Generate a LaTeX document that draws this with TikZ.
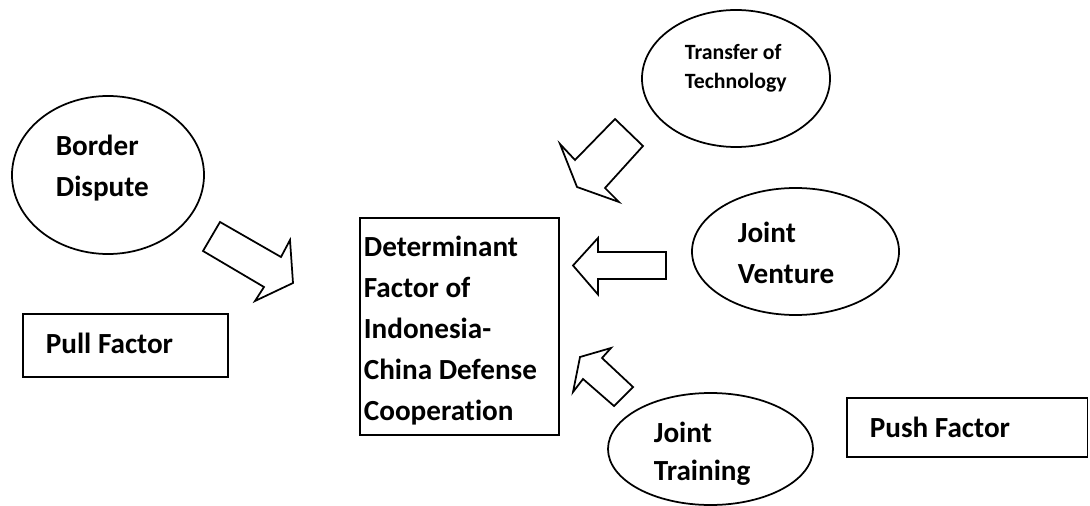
\documentclass[tikz,border=0pt]{standalone}
\usepackage{fontspec}
\setmainfont{Carlito}[Ligatures=NoCommon]
\usetikzlibrary{shapes.geometric}

\begin{document}
\begin{tikzpicture}[x=0.2mm, y=-0.2mm, line width=0.35mm,
			oval/.style={draw, ellipse, inner sep=0pt},
			box/.style={draw, rectangle, inner sep=0pt},
			lbl/.style={anchor=base west, inner sep=0pt, align=left, font=\bfseries\fontsize{16.6}{23.3}\selectfont},
			blockarrow/.style={draw, line join=miter}]
			\useasboundingbox (0,0) rectangle (1090,506);

			% factors
			\node[oval, minimum width=38.4mm, minimum height=31.6mm] (border) at (108,175) {};
			\node[oval, minimum width=37.6mm, minimum height=27.4mm] (transfer) at (736,78.5) {};
			\node[oval, minimum width=41.4mm, minimum height=25.4mm] (venture) at (795.5,251.5) {};
			\node[oval, minimum width=41mm, minimum height=22.4mm] (training) at (710.5,449) {};

			% boxes
			\node[box, minimum width=41mm, minimum height=12.6mm] (pull) at (125.5,345.5) {};
			\node[box, minimum width=48.1mm, minimum height=11.8mm] (push) at (967.25,427.5) {};
			\node[box, minimum width=39.8mm, minimum height=43.4mm] (core) at (459.5,326.5) {};

			% texts (base = last line)
			\node[lbl] (bordertxt) at (55,196) {Border\\Dispute};
			\node[lbl] (pulltxt) at (45,353) {Pull Factor};
			\node[lbl] (coretxt) at (363,420) {Determinant\\Factor of\\Indonesia-\\China Defense\\Cooperation};
			\node[lbl, font=\bfseries\fontsize{12.4}{17}\selectfont] (transfertxt) at (684,89) {Transfer of\\Technology};
			\node[lbl] (venturetxt) at (737,283) {Joint\\Venture};
			\node[lbl, font=\bfseries\fontsize{16.6}{21.5}\selectfont] (trainingtxt) at (653,480) {Joint\\Training};
			\node[lbl] (pushtxt) at (869,437) {Push Factor};

			% block arrows
			\draw[blockarrow] (220,222) -- (281,257) -- (290,240) -- (293,283) -- (255,301) -- (264,287) -- (203,251) -- cycle;
			\draw[blockarrow] (643,146) -- (615,119) -- (575,160) -- (560,144) -- (577,187) -- (619,202) -- (605,188) -- cycle;
			\draw[blockarrow] (666,252) -- (598,252) -- (598,238) -- (573,265.5) -- (598,294.5) -- (598,279) -- (666,279) -- cycle;
			\draw[blockarrow] (633,387) -- (602,358) -- (611,348) -- (580,357) -- (573,392) -- (583,379) -- (614,406) -- cycle;
		\end{tikzpicture}
\end{document}
